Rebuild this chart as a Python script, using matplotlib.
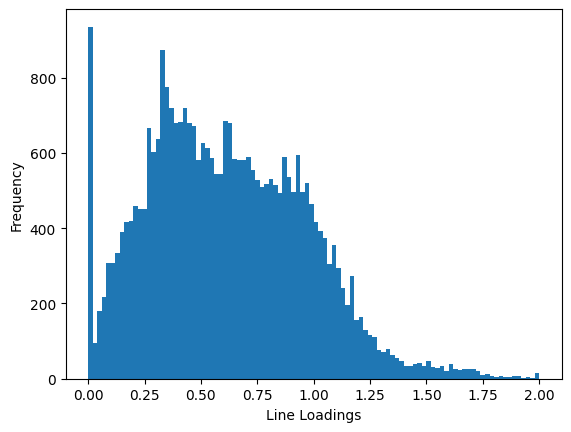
import numpy as np
import matplotlib
matplotlib.use("Agg")
import matplotlib.pyplot as plt

# Cuentas por bin (100 bins de ancho 0.02 entre 0 y 2)
counts = [
    935, 95, 180, 218, 308, 308, 335, 390, 415, 418,
    460, 452, 450, 665, 603, 637, 873, 775, 720, 680,
    682, 718, 680, 672, 580, 625, 612, 587, 545, 545,
    685, 678, 583, 580, 580, 588, 555, 527, 510, 518,
    530, 515, 492, 588, 535, 497, 593, 497, 520, 465,
    415, 392, 373, 305, 355, 295, 240, 195, 272, 155,
    165, 130, 115, 110, 75, 70, 78, 62, 55, 48,
    35, 33, 40, 43, 33, 47, 30, 28, 35, 20,
    40, 27, 24, 27, 27, 27, 20, 10, 12, 8,
    4, 7, 5, 5, 7, 7, 3, 5, 3, 15,
]
edges = np.linspace(0, 2, len(counts) + 1)
centers = (edges[:-1] + edges[1:]) / 2

plt.figure(figsize=(6.4, 4.8))
plt.hist(centers, bins=edges, weights=counts)
plt.xlabel("Line Loadings")
plt.ylabel("Frequency")
plt.savefig("out.png", dpi=100, bbox_inches="tight")
